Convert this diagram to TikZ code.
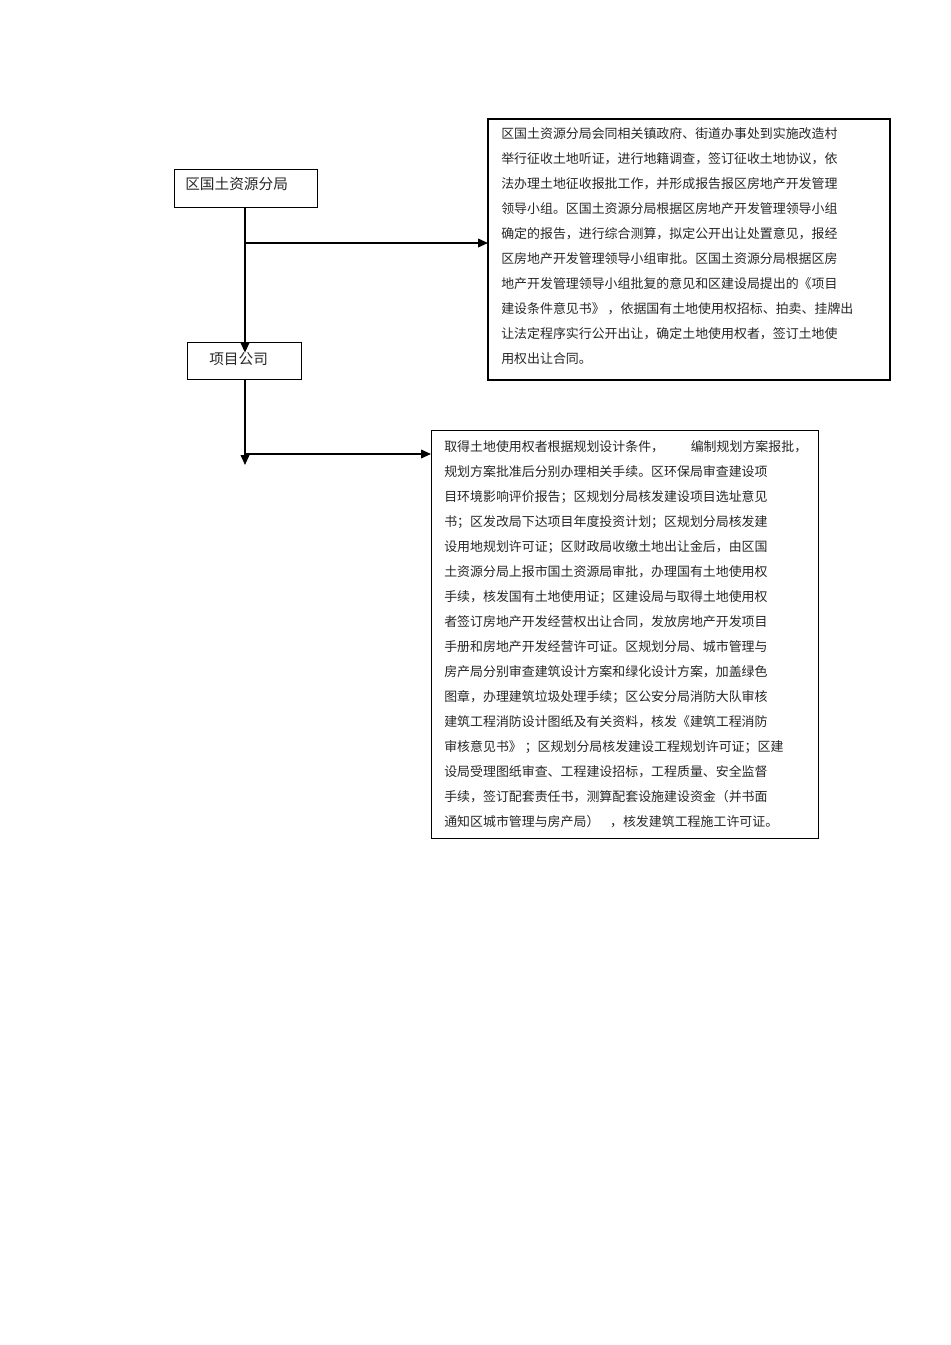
\documentclass[tikz,border=0pt]{standalone}
\usepackage{fontspec}
\setmainfont{Noto Sans CJK SC}
\usetikzlibrary{arrows.meta}
\tikzset{
  boxa/.style={draw, line width=0.6pt, anchor=north west, inner sep=0pt, outer sep=0pt},
  boxb/.style={draw, line width=1.5pt, anchor=north west, inner sep=0pt, outer sep=0pt},
  smalltxt/.style={font=\fontsize{9.7pt}{18.75pt}\selectfont, align=left, inner sep=0pt, anchor=north west, text=black!85},
  bigtxt/.style={font=\fontsize{11pt}{13pt}\selectfont, inner sep=0pt, anchor=west, text=black!85},
  arr/.style={line width=1.2pt, -{Triangle[length=7.5pt,width=6.5pt]}},
  ln/.style={line width=1.2pt}
}
\begin{document}
\begin{tikzpicture}[x=0.75pt,y=-0.75pt]
\useasboundingbox (0,0) rectangle (950,1345);
% boxes
\node[boxa, minimum width=143*0.75pt, minimum height=38*0.75pt] (b1) at (174,169) {};
\node[bigtxt] (t1) at (185,184) {区国土资源分局};
\node[boxa, minimum width=114*0.75pt, minimum height=37*0.75pt] (b2) at (187,342) {};
\node[bigtxt] (t2) at (209,359) {项目公司};
\node[boxb, minimum width=402*0.75pt, minimum height=261*0.75pt] (b3) at (488,119) {};
\node[smalltxt] (t3) at (501,127) {区国土资源分局会同相关镇政府、街道办事处到实施改造村\\
举行征收土地听证，进行地籍调查，签订征收土地协议，依\\
法办理土地征收报批工作，并形成报告报区房地产开发管理\\
领导小组。区国土资源分局根据区房地产开发管理领导小组\\
确定的报告，进行综合测算，拟定公开出让处置意见，报经\\
区房地产开发管理领导小组审批。区国土资源分局根据区房\\
地产开发管理领导小组批复的意见和区建设局提出的《项目\\
建设条件意见书》\ ，依据国有土地使用权招标、拍卖、挂牌出\\
让法定程序实行公开出让，确定土地使用权者，签订土地使\\
用权出让合同。};
\node[boxa, minimum width=387*0.75pt, minimum height=408*0.75pt] (b4) at (431,430) {};
\node[smalltxt] (t4) at (444,440) {取得土地使用权者根据规划设计条件，\hspace{20pt}编制规划方案报批，\\
规划方案批准后分别办理相关手续。区环保局审查建设项\\
目环境影响评价报告；区规划分局核发建设项目选址意见\\
书；区发改局下达项目年度投资计划；区规划分局核发建\\
设用地规划许可证；区财政局收缴土地出让金后，由区国\\
土资源分局上报市国土资源局审批，办理国有土地使用权\\
手续，核发国有土地使用证；区建设局与取得土地使用权\\
者签订房地产开发经营权出让合同，发放房地产开发项目\\
手册和房地产开发经营许可证。区规划分局、城市管理与\\
房产局分别审查建筑设计方案和绿化设计方案，加盖绿色\\
图章，办理建筑垃圾处理手续；区公安分局消防大队审核\\
建筑工程消防设计图纸及有关资料，核发《建筑工程消防\\
审核意见书》\ ；区规划分局核发建设工程规划许可证；区建\\
设局受理图纸审查、工程建设招标，工程质量、安全监督\\
手续，签订配套责任书，测算配套设施建设资金（并书面\\
通知区城市管理与房产局）\hspace{8pt}，核发建筑工程施工许可证。};
% connectors
\coordinate (j1) at (245,243);
\coordinate (j2) at (245,454);
\coordinate (e2) at (245,465);
\draw[arr, shorten >=-8pt] (b1.south -| j1) -- (b2.north -| j1);
\draw[arr] (j1) -- (j1 -| b3.west);
\draw[arr] (b2.south -| j2) -- (e2);
\draw[arr] (j2) -- (j2 -| b4.west);
\end{tikzpicture}
\end{document}
